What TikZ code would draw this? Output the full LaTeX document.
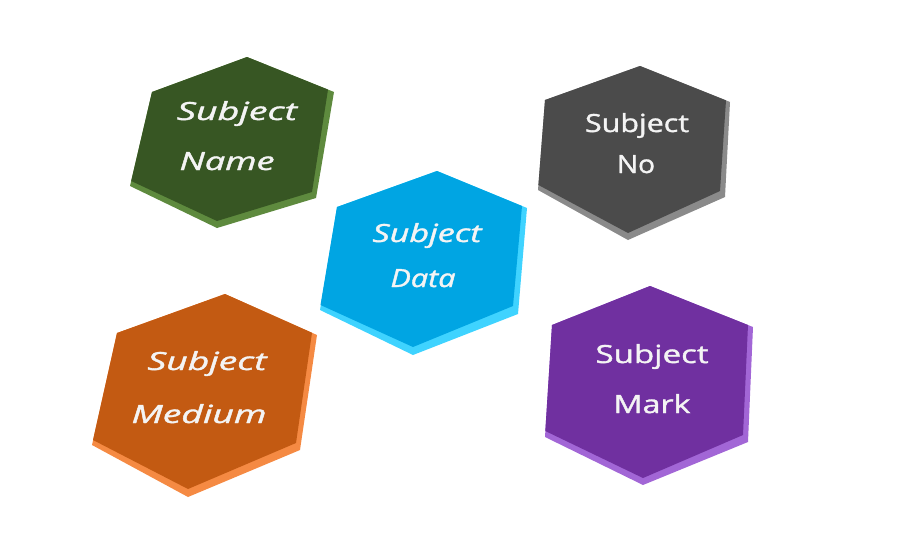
\documentclass[tikz,border=0pt]{standalone}
\usepackage{fontspec}
\setmainfont{Open Sans}
\newfontfamily\hexfont{Open Sans}[RawFeature={embolden=1.3}]
\usepackage{graphicx}
\definecolor{gface}{HTML}{375623}
\definecolor{gside}{HTML}{5E8A3E}
\definecolor{bface}{HTML}{00A5E3}
\definecolor{bside}{HTML}{3FD3FF}
\definecolor{kface}{HTML}{4B4B4B}
\definecolor{kside}{HTML}{8A8A8A}
\definecolor{oface}{HTML}{C35A12}
\definecolor{oside}{HTML}{F58A43}
\definecolor{pface}{HTML}{7030A0}
\definecolor{pside}{HTML}{A266D6}
\definecolor{txt}{HTML}{F4F4F4}
\tikzset{
  lbl/.style={text=txt, inner sep=0pt, anchor=base, font=\hexfont\fontsize{25}{28}\selectfont},
  ilbl/.style={lbl, font=\hexfont\fontsize{25}{28}\selectfont\itshape},
}
\begin{document}
\begin{tikzpicture}[x=1pt,y=-1pt]
\useasboundingbox (0,0) rectangle (903,549);
% green
\fill[gside] (247,57) -- (334,92) -- (316,198) -- (217,228) -- (130,186) -- (152,92) -- cycle;
\fill[gface] (247,57) -- (328,89.6) -- (312,192) -- (217,221) -- (131.2,181) -- (152,92) -- cycle;
\node[ilbl] (g1) at (237,120) {\resizebox{120pt}{\height}{Subject}};
\node[ilbl] (g2) at (227,170) {\resizebox{95pt}{\height}{Name}};
% blue
\fill[bside] (437,171) -- (527,208) -- (518,314) -- (413,355) -- (320,310) -- (337,207) -- cycle;
\fill[bface] (437,171) -- (522,206) -- (513,306) -- (413,347) -- (320.5,305) -- (337,207) -- cycle;
\node[ilbl] (b1) at (427,242) {\resizebox{109pt}{\height}{Subject}};
\node[ilbl] (b2) at (423,287) {\resizebox{65pt}{\height}{Data}};
% gray
\fill[kside] (640,66) -- (730,102) -- (725,197) -- (628,240) -- (538,190) -- (545,100) -- cycle;
\fill[kface] (640,66) -- (726,100.4) -- (720,191) -- (628,233) -- (538.4,185) -- (545,100) -- cycle;
\node[lbl] (k1) at (637,132) {\resizebox{104pt}{\height}{Subject}};
\node[lbl] (k2) at (636,173) {\resizebox{38pt}{\height}{No}};
% orange
\fill[oside] (225,294) -- (317,335) -- (300,450) -- (188,497) -- (92,445) -- (117,333) -- cycle;
\fill[oface] (225,294) -- (312,332.8) -- (296,443) -- (188,489) -- (93,440) -- (117,333) -- cycle;
\node[ilbl] (o1) at (207,370) {\resizebox{119pt}{\height}{Subject}};
\node[ilbl] (o2) at (199,423) {\resizebox{135pt}{\height}{Medium}};
% purple
\fill[pside] (650,286) -- (753,327) -- (748,442) -- (643,485) -- (545,437) -- (552,325) -- cycle;
\fill[pface] (650,286) -- (748,325) -- (743,435) -- (643,478) -- (545.3,431) -- (552,325) -- cycle;
\node[lbl] (p1) at (652,363) {\resizebox{113pt}{\height}{Subject}};
\node[lbl] (p2) at (652,413) {\resizebox{77pt}{\height}{Mark}};
\end{tikzpicture}
\end{document}
